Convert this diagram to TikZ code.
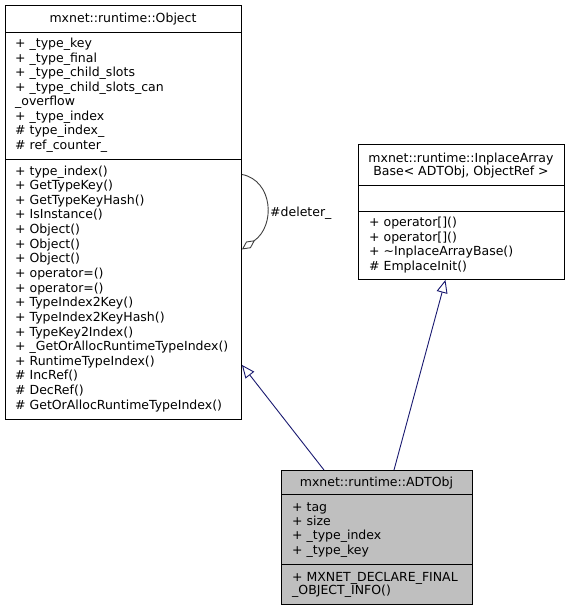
\documentclass[tikz,border=0pt]{standalone}
\usepackage{fontspec}
\setmainfont{DejaVu Sans}
\usetikzlibrary{arrows.meta,calc}
\definecolor{edgeblue}{RGB}{25,25,112}
\definecolor{loopgray}{RGB}{64,64,64}
\definecolor{focusfill}{RGB}{191,191,191}
\begin{document}
\begin{tikzpicture}[x=1pt,y=1pt,
  umlbox/.style={draw=black, line width=0.9pt, inner sep=0pt, anchor=north west},
  txt/.style={font=\fontsize{12.5}{14.6}\selectfont, inner sep=0pt, anchor=base west},
  ttl/.style={font=\fontsize{12.5}{14.6}\selectfont, inner sep=0pt, anchor=base},
  sep/.style={draw=black, line width=0.9pt},
  inherit/.style={draw=edgeblue, line width=0.9pt, -{Triangle[open, length=13pt, width=11pt]}},
]
\useasboundingbox (0,0) rectangle (571,-611);
% boxes
\node[umlbox, minimum width=236pt, minimum height=414pt] (obj) at (5,-5) {};
\node[umlbox, minimum width=206pt, minimum height=135pt] (inp) at (358,-144) {};
\node[umlbox, fill=focusfill, minimum width=191pt, minimum height=134pt] (adt) at (281,-470) {};
% separators
\draw[sep] (obj.west |- 0,-32) -- (obj.east |- 0,-32);
\draw[sep] (obj.west |- 0,-159) -- (obj.east |- 0,-159);
\draw[sep] (inp.west |- 0,-185) -- (inp.east |- 0,-185);
\draw[sep] (inp.west |- 0,-211) -- (inp.east |- 0,-211);
\draw[sep] (adt.west |- 0,-494.3) -- (adt.east |- 0,-494.3);
\draw[sep] (adt.west |- 0,-564.3) -- (adt.east |- 0,-564.3);
% Object
\node[ttl] (objt) at (123,-22.7) {mxnet::runtime::Object};
\foreach \t [count=\i from 0] in {+ \_type\_key, + \_type\_final, + \_type\_child\_slots, + \_type\_child\_slots\_can, \_overflow, + \_type\_index, \# type\_index\_, \# ref\_counter\_}
  \node[txt] (oa\i) at (15,{-47.5-14.5*\i}) {\t};
\foreach \t [count=\i from 0] in {+ type\_index(), + GetTypeKey(), + GetTypeKeyHash(), + IsInstance(), + Object(), + Object(), + Object(), + operator=(), + operator=(), + TypeIndex2Key(), + TypeIndex2KeyHash(), + TypeKey2Index(), + \_GetOrAllocRuntimeTypeIndex(), + RuntimeTypeIndex(), \# IncRef(), \# DecRef(), \# GetOrAllocRuntimeTypeIndex()}
  \node[txt] (om\i) at (15,{-175-14.64*\i}) {\t};
% InplaceArrayBase
\node[ttl] (inpt1) at (461,-162.5) {mxnet::runtime::InplaceArray};
\node[ttl] (inpt2) at (461,-175.2) {Base< ADTObj, ObjectRef >};
\foreach \t [count=\i from 0] in {+ operator[](), + operator[](), + \textasciitilde InplaceArrayBase(), \# EmplaceInit()}
  \node[txt] (im\i) at (369,{-226.5-14.5*\i}) {\t};
% ADTObj
\node[ttl] (adtt) at (376.5,-486.2) {mxnet::runtime::ADTObj};
\foreach \t [count=\i from 0] in {+ tag, + size, + \_type\_index, + \_type\_key}
  \node[txt] (aa\i) at (292,{-511-14.4*\i}) {\t};
\node[txt] (am0) at (292,-581.8) {+ MXNET\_DECLARE\_FINAL};
\node[txt] (am1) at (292,-594.5) {\_OBJECT\_INFO()};
% inheritance
\draw[inherit] ([xshift=43pt]adt.north west) -- ([yshift=55pt]obj.south east);
\draw[inherit] ([xshift=113pt]adt.north west) -- ([xshift=-16pt]inp.south);
% self loop
\draw[loopgray, line width=0.9pt, {Diamond[open, length=16pt, width=8pt]}-]
  ([yshift=-37pt]obj.east) .. controls ($(obj.east)+(34pt,-13pt)$) and ($(obj.east)+(31pt,32pt)$) .. ([yshift=38pt]obj.east);
\node[txt, anchor=west] (dl) at (270,-213) {\#deleter\_};
\end{tikzpicture}
\end{document}
